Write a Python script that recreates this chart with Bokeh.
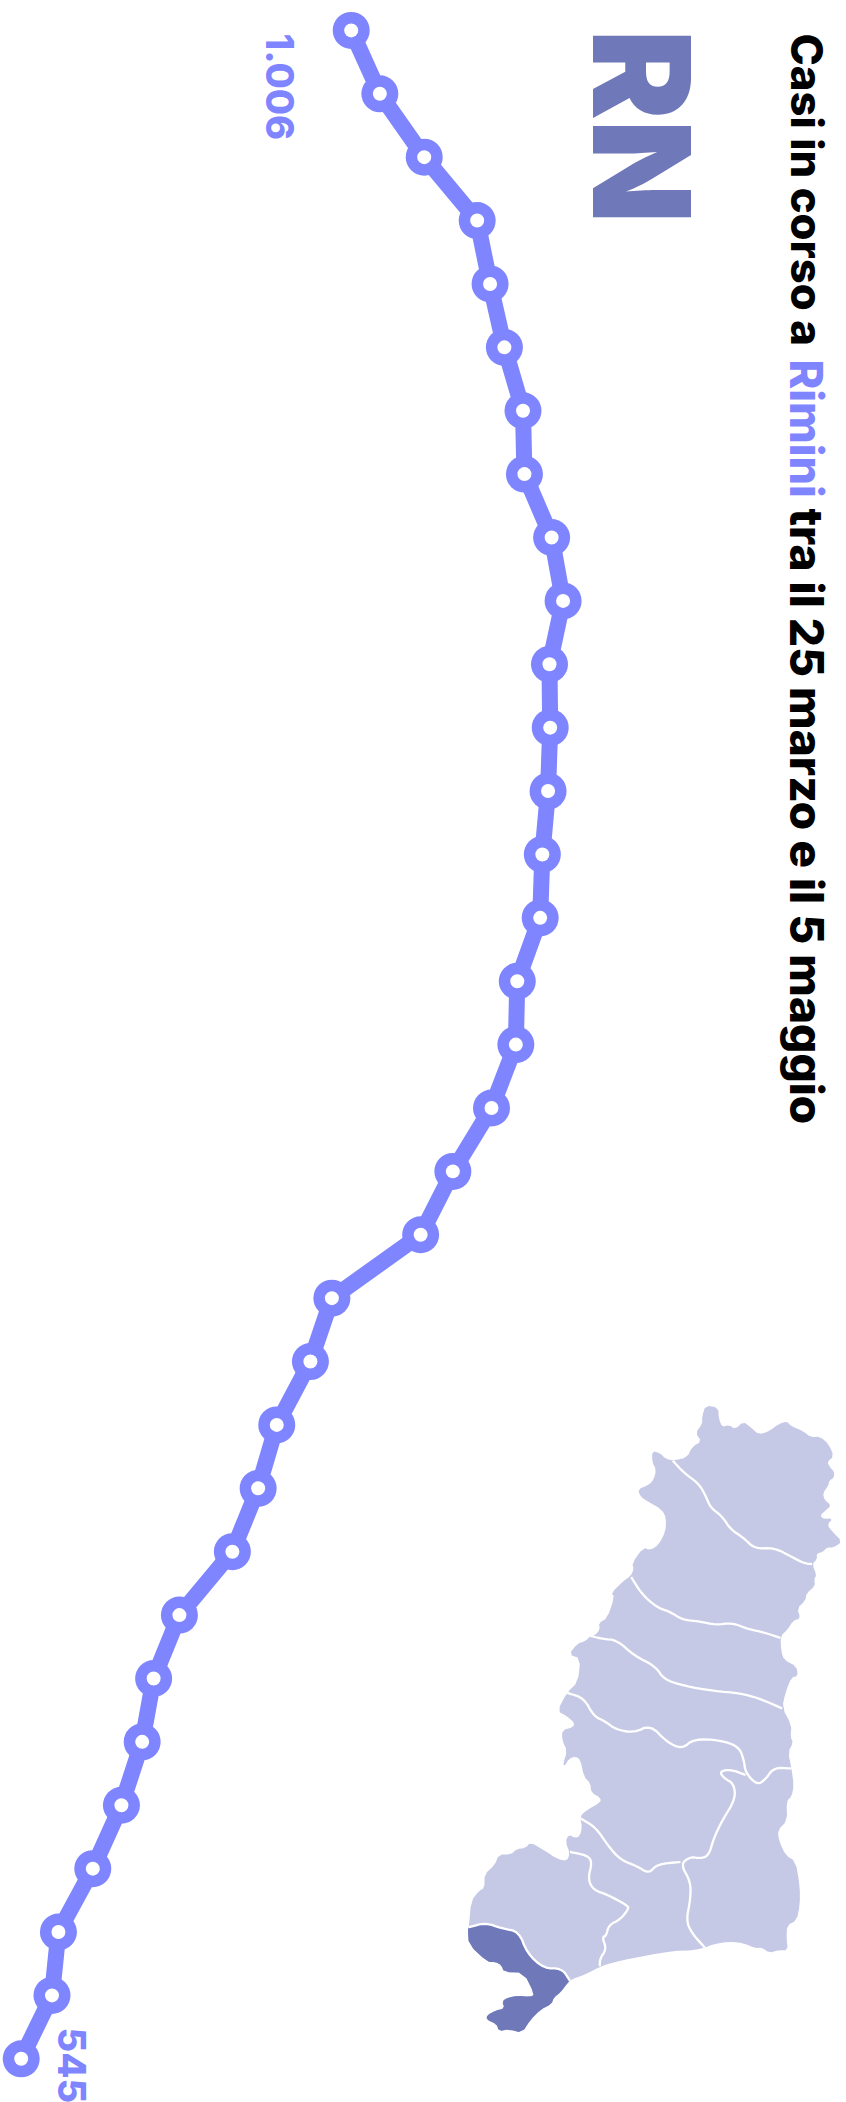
import math
from bokeh.plotting import figure
from bokeh.models import Range1d
from bokeh.core.properties import value
from bokeh.embed import file_html
from bokeh.resources import INLINE

# cases in progress, one reading per report, 25 March -> 5 May
cases = [1006, 1046, 1108, 1182, 1200, 1220, 1246, 1248, 1286, 1302, 1283,
         1284, 1281, 1273, 1270, 1238, 1236, 1202, 1148, 1103, 979, 949,
         902, 876, 840, 766, 730, 714, 685, 645, 597, 588, 545]
report = list(range(len(cases)))

title_parts = ["Casi in corso a", "Rimini", "tra il 25 marzo e il 5 maggio"]
province = "RN"
first_label = "1.006"
last_label = "545"

# map outline (traced units)
outline = [(855,55),(893,60),(895,85),(905,105),(925,100),(945,110),(968,92),(990,105),(1015,122),(1045,115),(1075,97),(1100,92),(1110,102),(1150,115),(1170,128),(1200,127),(1225,145),(1240,172),(1220,185),(1228,197),(1241,207),(1240,222),(1227,227),(1223,240),(1207,257),(1212,272),(1232,285),(1215,297),(1199,308),(1208,316),(1237,315),(1220,330),(1235,345),(1265,368),(1240,382),(1218,382),(1208,392),(1188,396),(1190,408),(1175,420),(1188,445),(1181,455),(1184,470),(1158,487),(1155,503),(1130,522),(1140,545),(1118,550),(1100,572),(1080,585),(1082,620),(1090,640),(1128,655),(1132,678),(1113,680),(1095,715),(1085,750),(1113,790),(1110,818),(1118,830),(1103,853),(1113,890),(1120,930),(1113,955),(1098,965),(1100,1010),(1072,1032),(1075,1055),(1095,1090),(1125,1103),(1138,1160),(1138,1205),(1128,1240),(1100,1250),(1098,1280),(1102,1308),(1075,1308),(1046,1314),(1025,1302),(1003,1303),(970,1292),(925,1288),(880,1294),(853,1302),(820,1308),(755,1310),(680,1320),(600,1332),(540,1345),(500,1362),(450,1376),(440,1385),(420,1405),(400,1417),(393,1432),(360,1445),(330,1468),(305,1498),(265,1490),(235,1494),(228,1478),(198,1468),(200,1457),(225,1447),(252,1442),(245,1425),(262,1417),(290,1413),(330,1415),(342,1410),(310,1360),(250,1358),(243,1343),(225,1335),(200,1335),(145,1295),(142,1262),(145,1255),(152,1195),(175,1172),(192,1165),(192,1133),(222,1113),(235,1088),(270,1088),(290,1075),(315,1073),(330,1060),(370,1078),(410,1098),(440,1103),(448,1085),(435,1058),(445,1042),(465,1050),(478,1045),(485,1025),(478,1000),(500,985),(540,968),(540,958),(512,945),(510,925),(490,908),(480,870),(465,862),(445,868),(432,885),(428,878),(440,850),(425,825),(425,802),(458,795),(462,785),(440,770),(410,758),(440,715),(472,692),(480,637),(445,628),(470,603),(495,597),(510,585),(525,583),(538,570),(535,555),(560,545),(582,495),(572,487),(610,458),(630,448),(640,432),(635,418),(668,382),(690,388),(715,375),(735,345),(737,315),(725,295),(680,275),(660,265),(652,248),(685,238),(700,225),(707,203),(695,185),(695,160),(720,165),(735,178),(760,182),(800,175),(815,150),(843,138),(825,118),(845,98),(845,80)]
rimini = [(145,1255),(195,1245),(245,1258),(295,1265),(320,1315),(370,1350),(425,1350),(448,1378),(440,1385),(420,1405),(400,1417),(393,1432),(360,1445),(330,1468),(305,1498),(265,1490),(235,1494),(228,1478),(198,1468),(200,1457),(225,1447),(252,1442),(245,1425),(262,1417),(290,1413),(330,1415),(342,1410),(310,1360),(250,1358),(243,1343),(225,1335),(200,1335),(145,1295),(142,1262)]
borders = [
 [(757,182),(790,210),(835,235),(855,262),(870,290),(905,310),(930,340),(970,360),(1003,385),(1060,382),(1110,402),(1150,418),(1175,420)],
 [(632,450),(665,490),(710,520),(750,530),(785,548),(840,552),(885,560),(935,555),(985,570),(1030,577),(1080,590)],
 [(510,585),(545,592),(590,595),(640,630),(705,655),(730,685),(790,700),(880,712),(960,717),(1020,730),(1085,752)],
 [(440,716),(490,728),(520,770),(555,782),(585,800),(640,808),(690,790),(740,830),(785,845),(820,822),(900,825),(955,840),(970,870),(975,900),(1010,928),(1035,915),(1060,888),(1113,890)],
 [(975,905),(930,892),(897,897),(910,912),(940,925),(945,960),(905,1010),(880,1050),(865,1090),(840,1097),(810,1093),(780,1110),(810,1150),(810,1190),(797,1240),(815,1270),(853,1302)],
 [(480,1005),(525,1025),(565,1070),(600,1100),(650,1115),(685,1132),(710,1110),(780,1105)],
 [(448,1082),(500,1090),(515,1105),(502,1145),(520,1170),(560,1180),(620,1205),(625,1212),(600,1237),(565,1250),(557,1275),(545,1278),(558,1305),(538,1328),(538,1345)],
 [(145,1255),(195,1245),(245,1258),(295,1265),(320,1315),(370,1350),(425,1350),(448,1378)],
]

W, H = 846, 2102
VIOLET = "#7f85ff"
LIGHT = "#c5c9e5"
DARK = "#6f78b8"


def rounded(pts, closed, passes=2):
    """Corner-cut a traced path so that it draws as a soft curve."""
    for _ in range(passes):
        out = [pts[0]] if not closed else []
        n = len(pts)
        for i in range(n if closed else n - 1):
            a, b = pts[i], pts[(i + 1) % n]
            out.append((0.75 * a[0] + 0.25 * b[0], 0.75 * a[1] + 0.25 * b[1]))
            out.append((0.25 * a[0] + 0.75 * b[0], 0.25 * a[1] + 0.75 * b[1]))
        if not closed:
            out.append(pts[-1])
        pts = out
    return pts


p = figure(width=W, height=H, toolbar_location=None, output_backend="svg",
           x_range=Range1d(0, W), y_range=Range1d(H, 0), min_border=0,
           x_axis_type=None, y_axis_type=None, outline_line_color=None,
           background_fill_color="white", border_fill_color="white")
p.grid.visible = False

# scales: cases to page x, report to page y
px_per_case = 330 / 461
p.extra_x_ranges["cases"] = Range1d(545 - 20.7 / px_per_case, 545 + (W - 20.7) / px_per_case)
step = 2028.4 / 32
p.extra_y_ranges["report"] = Range1d((H - 29.9) / step, -29.9 / step)
# map scales
kx, ky = 3.0, 2.30
p.extra_x_ranges["mapx"] = Range1d(-420 * kx, (W - 420) * kx)
p.extra_y_ranges["mapy"] = Range1d((H - 1381) * ky, -1381 * ky)

m = dict(x_range_name="mapx", y_range_name="mapy")
ol = rounded(outline, True, 1)
rn = rounded(rimini, True, 1)
p.patch([a for a, b in ol], [b for a, b in ol], fill_color=LIGHT, line_color=None, **m)
p.patch([a for a, b in rn], [b for a, b in rn], fill_color=DARK, line_color=None, **m)
bs = [rounded(b, False, 2) for b in borders]
p.multi_line([[a for a, b in s] for s in bs], [[b for a, b in s] for s in bs],
             line_color="white", line_width=2.3, line_join="round", **m)

s = dict(x_range_name="cases", y_range_name="report")
p.line(cases, report, line_color=VIOLET, line_width=16, **s)
p.scatter(cases, report, size=37, marker="circle", fill_color=VIOLET, line_color=None, **s)
p.scatter(cases, report, size=14, marker="circle", fill_color="white", line_color=None, **s)

rot = dict(angle=-math.pi / 2, text_align="left", text_baseline="alphabetic")
bold = dict(text_font=value("Inter ExtraBold"), **rot)
p.text([806], [33], text=[title_parts[0]], text_color="black", text_font_size="43.5px", **bold)
p.text([806.4], [359], text=[title_parts[1]], text_color=VIOLET, text_font_size="45px", **bold)
p.text([806.8], [508], text=[title_parts[2]], text_color="black", text_font_size="46px", **bold)
p.text([641], [29], text=[province], text_color=DARK, text_font_size="135px",
       text_font=value("Inter Black"), **rot)
p.text([279], [33], text=[first_label], text_color=VIOLET, text_font_size="38px", **bold)
p.text([71], [2027], text=[last_label], text_color=VIOLET, text_font_size="38px", **bold)

open("out.html", "w").write(file_html(p, INLINE))
